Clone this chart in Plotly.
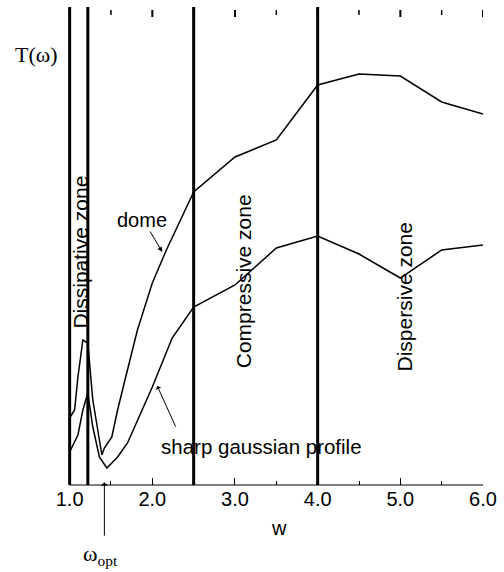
import plotly.graph_objects as go

# Data (omega, T in arbitrary units)
dome_w = [1.0, 1.06, 1.1, 1.16, 1.22, 1.28, 1.39, 1.42, 1.51, 1.58, 1.66, 1.82, 2.0, 2.17, 2.5, 3.0, 3.5, 4.0, 4.5, 5.0, 5.5, 6.0]
dome_T = [67, 75, 108, 145, 142, 85, 30, 37, 48, 75, 102, 155, 202, 235, 293, 328, 345, 400, 411, 409, 383, 371]

gauss_w = [1.0, 1.1, 1.16, 1.22, 1.28, 1.36, 1.45, 1.51, 1.58, 1.7, 2.0, 2.24, 2.5, 3.0, 3.5, 4.0, 4.5, 5.0, 5.5, 6.0]
gauss_T = [33, 50, 75, 92, 58, 28, 17, 22, 28, 42, 98, 147, 178, 200, 237, 249, 231, 207, 235, 240]

zone_bounds = [1.0, 1.22, 2.5, 4.0]
zone_labels = ["Dissipative zone", "Compressive zone", "Dispersive zone"]
zone_label_w = [1.12, 3.1, 5.05]
zone_label_T = [233, 204, 188]

omega_opt = 1.42

tick_vals = [1.0, 2.0, 3.0, 4.0, 5.0, 6.0]
tick_text = ["1.0", "2.0", "3.0", "4.0", "5.0", "6.0"]
minor_vals = [1.5, 2.5, 3.5, 4.5, 5.5]

X_RANGE = [0.98, 6.0]
Y_RANGE = [0, 478]
MAJOR_LEN = 7
MINOR_LEN = 5

SANS = "Liberation Sans, Arial, sans-serif"
SERIF = "Liberation Serif, Times New Roman, serif"

fig = go.Figure()
fig.add_trace(go.Scatter(x=dome_w, y=dome_T, mode="lines",
                         line=dict(color="black", width=1.5), showlegend=False))
fig.add_trace(go.Scatter(x=gauss_w, y=gauss_T, mode="lines",
                         line=dict(color="black", width=1.5), showlegend=False))

for b in zone_bounds:
    fig.add_shape(type="line", xref="x", yref="paper", x0=b, x1=b, y0=0, y1=1,
                  line=dict(color="black", width=3))

# bottom axis line
fig.add_shape(type="line", xref="x", yref="paper", x0=tick_vals[0], x1=tick_vals[-1],
              y0=0, y1=0, line=dict(color="#808080", width=2), layer="below")

# top (mirrored) tick marks, slightly below the frame top as in the original
for v in tick_vals:
    fig.add_shape(type="line", xref="x", yref="y", x0=v, x1=v,
                  y0=Y_RANGE[1] - 3, y1=Y_RANGE[1] - 3 - MAJOR_LEN,
                  line=dict(color="black", width=2))
for v in minor_vals:
    fig.add_shape(type="line", xref="x", yref="y", x0=v, x1=v,
                  y0=Y_RANGE[1] - 3, y1=Y_RANGE[1] - 3 - MINOR_LEN,
                  line=dict(color="black", width=1.5))

for lab, xw, yt in zip(zone_labels, zone_label_w, zone_label_T):
    fig.add_annotation(x=xw, y=yt, xref="x", yref="y", text=lab, textangle=-90,
                       xanchor="center", yanchor="middle",
                       showarrow=False, font=dict(family=SANS, size=21, color="black"))

fig.add_annotation(x=1.88, y=265, xref="x", yref="y", text="dome", showarrow=False,
                   xanchor="center", yanchor="middle",
                   font=dict(family=SANS, size=20, color="black"))
fig.add_annotation(x=2.12, y=233, xref="x", yref="y", text="", showarrow=True,
                   ax=-13, ay=-22, arrowhead=2, arrowsize=1, arrowwidth=1,
                   arrowcolor="black")

fig.add_annotation(x=3.32, y=39, xref="x", yref="y", text="sharp gaussian profile",
                   xanchor="center", yanchor="middle",
                   showarrow=False, font=dict(family=SANS, size=20.5, color="black"))
fig.add_annotation(x=2.06, y=99, xref="x", yref="y", text="", showarrow=True,
                   ax=19, ay=42, arrowhead=1, arrowsize=1, arrowwidth=1,
                   arrowcolor="black")

fig.add_annotation(x=omega_opt, y=0.006, xref="x", yref="paper", text="", showarrow=True,
                   ax=0, ay=55, arrowhead=1, arrowsize=1.2, arrowwidth=1,
                   arrowcolor="black")

fig.add_annotation(x=-0.077, y=0.90, xref="paper", yref="paper", text="T(ω)",
                   xanchor="center", yanchor="middle",
                   showarrow=False, font=dict(family=SERIF, size=22, color="black"))
fig.add_annotation(x=0.079, y=-0.146, xref="paper", yref="paper",
                   text="ω<sub>opt</sub>", showarrow=False,
                   xanchor="center", yanchor="middle",
                   font=dict(family=SERIF, size=22, color="black"))
fig.add_annotation(x=0.508, y=-0.09, xref="paper", yref="paper", text="w",
                   xanchor="center", yanchor="middle",
                   showarrow=False, font=dict(family=SANS, size=20, color="black"))

fig.update_layout(
    width=504, height=572,
    margin=dict(l=68, r=19, t=7, b=87),
    paper_bgcolor="white", plot_bgcolor="white",
    xaxis=dict(range=X_RANGE, showgrid=False, zeroline=False, showline=False,
               tickvals=tick_vals, ticktext=tick_text, ticks="inside", ticklen=MAJOR_LEN,
               tickwidth=1, tickcolor="black",
               minor=dict(tickvals=minor_vals, ticks="inside", ticklen=MINOR_LEN - 1,
                          tickcolor="black", showgrid=False),
               tickfont=dict(family=SANS, size=20, color="black")),
    yaxis=dict(range=Y_RANGE, visible=False),
)

fig.write_html("out.html", post_script="document.body.style.margin='0';",
               config={"displayModeBar": False})
